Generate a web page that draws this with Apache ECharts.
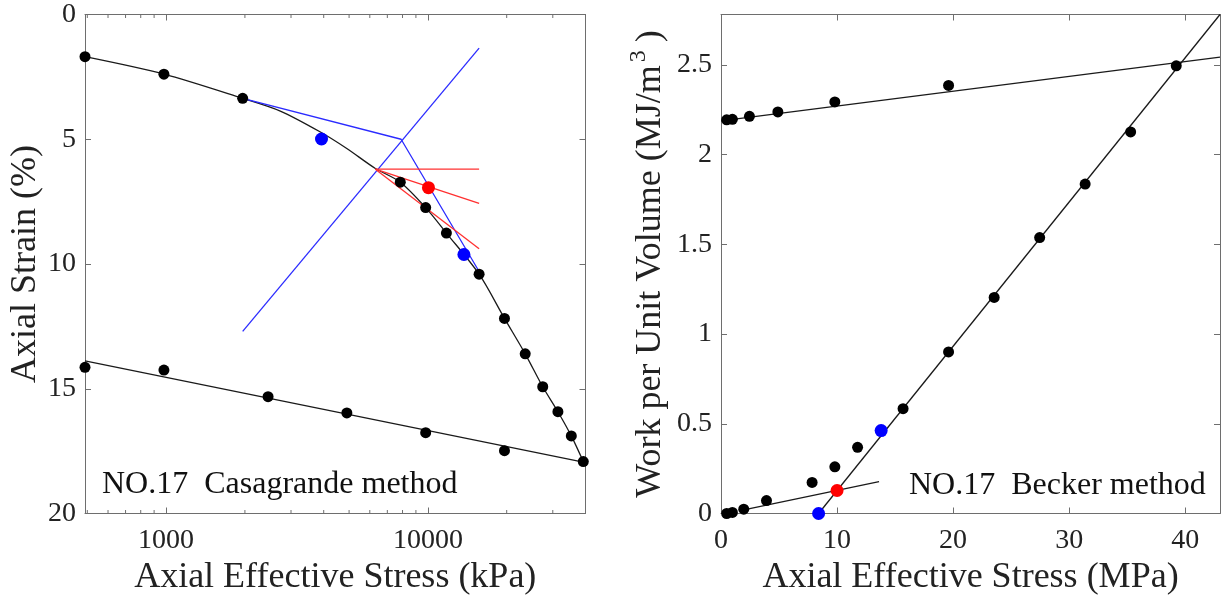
<!DOCTYPE html>
<html>
<head>
<meta charset="utf-8">
<script src="https://cdn.jsdelivr.net/npm/echarts@6/dist/echarts.min.js"></script>
<style>
html,body{margin:0;padding:0;background:#fff;}
#chart{width:1224px;height:601px;}
</style>
</head>
<body>
<div id="chart"></div>
<script>
// ---------- Left panel: Casagrande method (kPa, log x, strain %) ----------
const compStress = [490, 981, 1961, 7845, 9807, 11768, 15691, 19613, 23536, 27459, 31381, 35304, 39227];
const compStrain = [1.69, 2.39, 3.36, 6.72, 7.74, 8.76, 10.41, 12.18, 13.60, 14.92, 15.92, 16.89, 17.92];
const unloadStress = [490, 981, 2452, 4903, 9807, 19613];
const unloadStrain = [14.14, 14.25, 15.32, 15.97, 16.76, 17.48];
const curveStress = [490, 981, 1961, 2730, 3870, 4900, 6300, 7845, 9807, 11768, 15691, 19613, 23536, 27459, 31381, 35304, 39227];
const curveStrain = [1.69, 2.39, 3.36, 3.87, 4.70, 5.37, 6.17, 6.72, 7.74, 8.76, 10.41, 12.18, 13.60, 14.92, 15.92, 16.89, 17.92];
const unloadLineStress = [490, 39227];
const unloadLineStrain = [13.88, 17.94];
const blueTangentStress = [1961, 7900, 15691];
const blueTangentStrain = [3.36, 5.0, 10.3];
const blueBisectStress = [1961, 15691];
const blueBisectStrain = [12.7, 1.35];
const redOrigin = [6300, 6.2];
const redEndStress = [15691, 15691, 15691];
const redEndStrain = [6.2, 7.57, 9.39];
const leftBlueStress = [3923, 13729];
const leftBlueStrain = [4.99, 9.62];
const leftRedStress = [10050];
const leftRedStrain = [6.94];
const leftMinorTicks = [500, 600, 700, 800, 900, 2000, 3000, 4000, 5000, 6000, 7000, 8000, 9000, 20000, 30000, 40000];
const leftXMin = 490, leftXMax = 40000;
const leftYMin = 0, leftYMax = 20, leftYStep = 5;

// ---------- Right panel: Becker method (MPa, work MJ/m3) ----------
const upperStress = [0.49, 0.98, 2.45, 4.90, 9.81, 19.61, 39.23];
const upperWork = [2.193, 2.196, 2.213, 2.237, 2.293, 2.385, 2.494];
const lowerStress = [0.49, 0.98, 1.96, 3.92, 7.85, 9.81, 11.77, 15.69, 19.61, 23.54, 27.46, 31.38, 35.30];
const lowerWork = [0.0, 0.006, 0.024, 0.072, 0.173, 0.26, 0.369, 0.584, 0.90, 1.204, 1.537, 1.835, 2.126];
const steepLineStress = [8.41, 43];
const steepLineWork = [0, 2.78];
const upperLineStress = [0, 43];
const upperLineWork = [2.187, 2.543];
const lowLineStress = [1.96, 13.62];
const lowLineWork = [0.020, 0.178];
const rightBlueStress = [8.41, 13.80];
const rightBlueWork = [0, 0.462];
const rightRedStress = [10.0];
const rightRedWork = [0.128];
const rightXMin = 0, rightXMax = 43, rightXStep = 10;
const rightYMin = 0, rightYMax = 2.78, rightYStep = 0.5;

const zip = (a, b) => a.map((v, i) => [v, b[i]]);
const FONT = 'Liberation Serif';
const AX = '#6e6e6e';
const TXT = '#222';

function valAxis(extra) {
  return Object.assign({
    axisLine: {show: true, onZero: false, lineStyle: {color: AX, width: 1}},
    axisTick: {show: true, inside: true, length: 6, lineStyle: {color: AX}},
    axisLabel: {show: true, color: TXT, fontFamily: FONT, fontSize: 28, margin: 9},
    splitLine: {show: false},
    nameTextStyle: {color: TXT, fontFamily: FONT, fontSize: 36},
    nameLocation: 'middle'
  }, extra);
}
function mirror(extra) {
  const a = valAxis(extra);
  a.axisLabel = {show: false};
  a.name = '';
  return a;
}
const isPow10 = v => Math.abs(Math.log10(v) - Math.round(Math.log10(v))) < 1e-6;
const xLabel = (fmt) => ({color: TXT, fontFamily: FONT, fontSize: 28, margin: 13, showMaxLabel: false, formatter: fmt});
const dot = (color, size) => ({symbolSize: size, itemStyle: {color: color, opacity: 1}, clip: false});

const option = {
  animation: false,
  backgroundColor: '#fff',
  grid: [
    {left: 85, top: 14.5, width: 500.5, height: 499},
    {left: 721, top: 14.5, width: 499, height: 499}
  ],
  xAxis: [
    valAxis({gridIndex: 0, type: 'log', logBase: 10, min: leftXMin, max: leftXMax, position: 'bottom',
      name: 'Axial Effective Stress (kPa)', nameGap: 46,
      axisLabel: xLabel(v => isPow10(v) ? String(Math.round(v)) : '')}),
    mirror({gridIndex: 0, type: 'log', logBase: 10, min: leftXMin, max: leftXMax, position: 'top'}),
    valAxis({gridIndex: 1, type: 'value', min: rightXMin, max: rightXMax, interval: rightXStep, position: 'bottom',
      name: 'Axial Effective Stress (MPa)', nameGap: 46,
      axisLabel: xLabel(v => (v % rightXStep === 0 ? String(v) : ''))}),
    mirror({gridIndex: 1, type: 'value', min: rightXMin, max: rightXMax, interval: rightXStep, position: 'top'})
  ],
  yAxis: [
    valAxis({gridIndex: 0, type: 'value', inverse: true, min: leftYMin, max: leftYMax, interval: leftYStep, position: 'left',
      name: 'Axial Strain (%)', nameGap: 41, nameRotate: 90}),
    mirror({gridIndex: 0, type: 'value', inverse: true, min: leftYMin, max: leftYMax, interval: leftYStep, position: 'right'}),
    valAxis({gridIndex: 1, type: 'value', min: rightYMin, max: rightYMax, interval: rightYStep, position: 'left',
      name: 'Work per Unit Volume (MJ/m{sup|3})', nameGap: 44, nameRotate: 90,
      nameTextStyle: {color: TXT, fontFamily: FONT, fontSize: 36, lineHeight: 46,
        rich: {sup: {fontFamily: FONT, fontSize: 24, color: TXT, verticalAlign: 'top', lineHeight: 24, padding: [0, 8, 0, 3]}}},
      axisLabel: {color: TXT, fontFamily: FONT, fontSize: 28, margin: 9, showMaxLabel: false,
        formatter: v => (Math.abs(v / rightYStep - Math.round(v / rightYStep)) < 1e-6 ? String(v) : '')}}),
    mirror({gridIndex: 1, type: 'value', min: rightYMin, max: rightYMax, interval: rightYStep, position: 'right'})
  ],
  series: [
    // left panel lines
    {type: 'line', xAxisIndex: 0, yAxisIndex: 0, data: zip(curveStress, curveStrain), smooth: 0.3,
      showSymbol: false, lineStyle: {color: '#1a1a1a', width: 1.3}, z: 2},
    {type: 'line', xAxisIndex: 0, yAxisIndex: 0, data: zip(unloadLineStress, unloadLineStrain),
      showSymbol: false, lineStyle: {color: '#1a1a1a', width: 1.3}, z: 2},
    {type: 'line', xAxisIndex: 0, yAxisIndex: 0, data: zip(blueTangentStress, blueTangentStrain),
      showSymbol: false, lineStyle: {color: '#2b2bff', width: 1.3}, z: 3},
    {type: 'line', xAxisIndex: 0, yAxisIndex: 0, data: zip(blueBisectStress, blueBisectStrain),
      showSymbol: false, lineStyle: {color: '#2b2bff', width: 1.3}, z: 3},
    ...redEndStress.map((s, i) => ({type: 'line', xAxisIndex: 0, yAxisIndex: 0,
      data: [redOrigin, [s, redEndStrain[i]]], showSymbol: false,
      lineStyle: {color: '#ff3030', width: 1.3}, z: 3})),
    // left panel points
    Object.assign({type: 'scatter', xAxisIndex: 0, yAxisIndex: 0, data: zip(compStress, compStrain), z: 5}, dot('#000', 11)),
    Object.assign({type: 'scatter', xAxisIndex: 0, yAxisIndex: 0, data: zip(unloadStress, unloadStrain), z: 5}, dot('#000', 11)),
    Object.assign({type: 'scatter', xAxisIndex: 0, yAxisIndex: 0, data: zip(leftBlueStress, leftBlueStrain), z: 6}, dot('#0000ff', 13)),
    Object.assign({type: 'scatter', xAxisIndex: 0, yAxisIndex: 0, data: zip(leftRedStress, leftRedStrain), z: 6}, dot('#ff0000', 13)),
    // left minor ticks (log axis)
    {type: 'custom', xAxisIndex: 0, yAxisIndex: 0, data: leftMinorTicks.map(v => [v]), clip: false, z: 10,
      silent: true,
      renderItem: function (params, api) {
        const v = api.value(0);
        const b = api.coord([v, leftYMax]);
        const t = api.coord([v, leftYMin]);
        return {type: 'group', children: [
          {type: 'line', shape: {x1: b[0], y1: b[1], x2: b[0], y2: b[1] - 3.5}, style: {stroke: AX, lineWidth: 1}},
          {type: 'line', shape: {x1: t[0], y1: t[1], x2: t[0], y2: t[1] + 3.5}, style: {stroke: AX, lineWidth: 1}}
        ]};
      }},
    // right panel lines
    {type: 'line', xAxisIndex: 2, yAxisIndex: 2, data: zip(steepLineStress, steepLineWork),
      showSymbol: false, lineStyle: {color: '#1a1a1a', width: 1.3}, z: 2},
    {type: 'line', xAxisIndex: 2, yAxisIndex: 2, data: zip(upperLineStress, upperLineWork),
      showSymbol: false, lineStyle: {color: '#1a1a1a', width: 1.3}, z: 2},
    {type: 'line', xAxisIndex: 2, yAxisIndex: 2, data: zip(lowLineStress, lowLineWork),
      showSymbol: false, lineStyle: {color: '#1a1a1a', width: 1.3}, z: 2},
    // right panel points
    Object.assign({type: 'scatter', xAxisIndex: 2, yAxisIndex: 2, data: zip(upperStress, upperWork), z: 5}, dot('#000', 11)),
    Object.assign({type: 'scatter', xAxisIndex: 2, yAxisIndex: 2, data: zip(lowerStress, lowerWork), z: 5}, dot('#000', 11)),
    Object.assign({type: 'scatter', xAxisIndex: 2, yAxisIndex: 2, data: zip(rightBlueStress, rightBlueWork), z: 6}, dot('#0000ff', 13)),
    Object.assign({type: 'scatter', xAxisIndex: 2, yAxisIndex: 2, data: zip(rightRedStress, rightRedWork), z: 6}, dot('#ff0000', 13))
  ],
  graphic: [
    {type: 'text', left: 102, top: 469, style: {text: 'NO.17  Casagrande method', fill: '#111', font: '32px "Liberation Serif"'}},
    {type: 'text', left: 909, top: 470, style: {text: 'NO.17  Becker method', fill: '#111', font: '32px "Liberation Serif"'}}
  ]
};

const chart = echarts.init(document.getElementById('chart'), null, {renderer: 'canvas'});
chart.setOption(option);
</script>
</body>
</html>
